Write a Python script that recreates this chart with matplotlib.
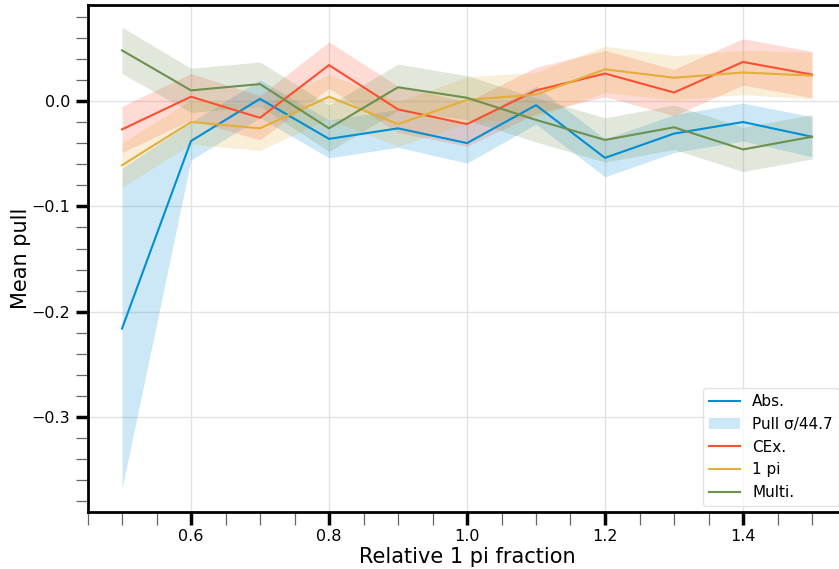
import matplotlib
matplotlib.use('Agg')
import matplotlib.pyplot as plt
from matplotlib.patches import Patch
from matplotlib.lines import Line2D
from matplotlib.ticker import MultipleLocator

# relative 1 pi fraction
fractions = [0.5, 0.6, 0.7, 0.8, 0.9, 1.0, 1.1, 1.2, 1.3, 1.4, 1.5]

# mean pulls per channel
abs_pull = [-0.216, -0.038, 0.002, -0.036, -0.026, -0.040, -0.004, -0.054, -0.031, -0.020, -0.034]
cex_pull = [-0.027, 0.004, -0.016, 0.034, -0.008, -0.022, 0.010, 0.026, 0.008, 0.037, 0.025]
onepi_pull = [-0.061, -0.020, -0.026, 0.004, -0.022, 0.001, 0.006, 0.030, 0.022, 0.027, 0.024]
multi_pull = [0.048, 0.010, 0.016, -0.026, 0.013, 0.003, -0.018, -0.037, -0.025, -0.046, -0.034]

# pull sigma / 44.7
abs_err = [0.152, 0.018, 0.018, 0.018, 0.018, 0.019, 0.018, 0.018, 0.018, 0.018, 0.019]
cex_err = [0.022, 0.022, 0.021, 0.022, 0.022, 0.021, 0.022, 0.022, 0.022, 0.022, 0.022]
onepi_err = [0.021, 0.021, 0.021, 0.021, 0.021, 0.022, 0.021, 0.022, 0.021, 0.021, 0.022]
multi_err = [0.022, 0.021, 0.021, 0.022, 0.022, 0.021, 0.021, 0.021, 0.021, 0.021, 0.021]

labels = ['Abs.', 'CEx.', '1 pi', 'Multi.']
colors = ['#008fd5', '#fc4f30', '#e5ae38', '#6d904f']
pulls = [abs_pull, cex_pull, onepi_pull, multi_pull]
errs = [abs_err, cex_err, onepi_err, multi_err]

fig = plt.figure(figsize=(8.39, 5.69), dpi=100, facecolor='white')
ax = fig.add_axes([87.5 / 839, 57 / 569, 759 / 839, 507.5 / 569])

for pull, err, col in zip(pulls, errs, colors):
    low = [p - e for p, e in zip(pull, err)]
    high = [p + e for p, e in zip(pull, err)]
    ax.fill_between(fractions, low, high, color=col, alpha=0.2, linewidth=0)
for pull, col in zip(pulls, colors):
    ax.plot(fractions, pull, color=col, linewidth=1.5)

ax.set_xlim(0.45, 1.55)
ax.set_ylim(-0.39, 0.0915)
ax.xaxis.set_major_locator(MultipleLocator(0.2))
ax.xaxis.set_minor_locator(MultipleLocator(0.05))
ax.yaxis.set_major_locator(MultipleLocator(0.1))
ax.yaxis.set_minor_locator(MultipleLocator(0.02))
ax.grid(True, which='major', color='#e3e3e3', linewidth=1)
ax.set_axisbelow(True)

ax.tick_params(which='major', direction='out', length=9, width=2.5, labelsize=11.5, colors='black')
ax.tick_params(which='minor', direction='out', length=9, width=0.9, color='#666666')
for side in ax.spines:
    ax.spines[side].set_linewidth(2)

ax.set_xlabel('Relative 1 pi fraction', fontsize=15, labelpad=2)
ax.set_ylabel('Mean pull', fontsize=15, labelpad=0)

handles = [Line2D([], [], color=colors[0], linewidth=1.5),
           Patch(facecolor=colors[0], alpha=0.2, linewidth=0),
           Line2D([], [], color=colors[1], linewidth=1.5),
           Line2D([], [], color=colors[2], linewidth=1.5),
           Line2D([], [], color=colors[3], linewidth=1.5)]
leg_labels = ['Abs.', 'Pull σ/44.7', 'CEx.', '1 pi', 'Multi.']
ax.legend(handles, leg_labels, loc='lower right', bbox_to_anchor=(0.990, 0.0118),
          borderaxespad=0, fontsize=11, frameon=True, edgecolor='#dddddd')

fig.savefig('out.png', dpi=100)
